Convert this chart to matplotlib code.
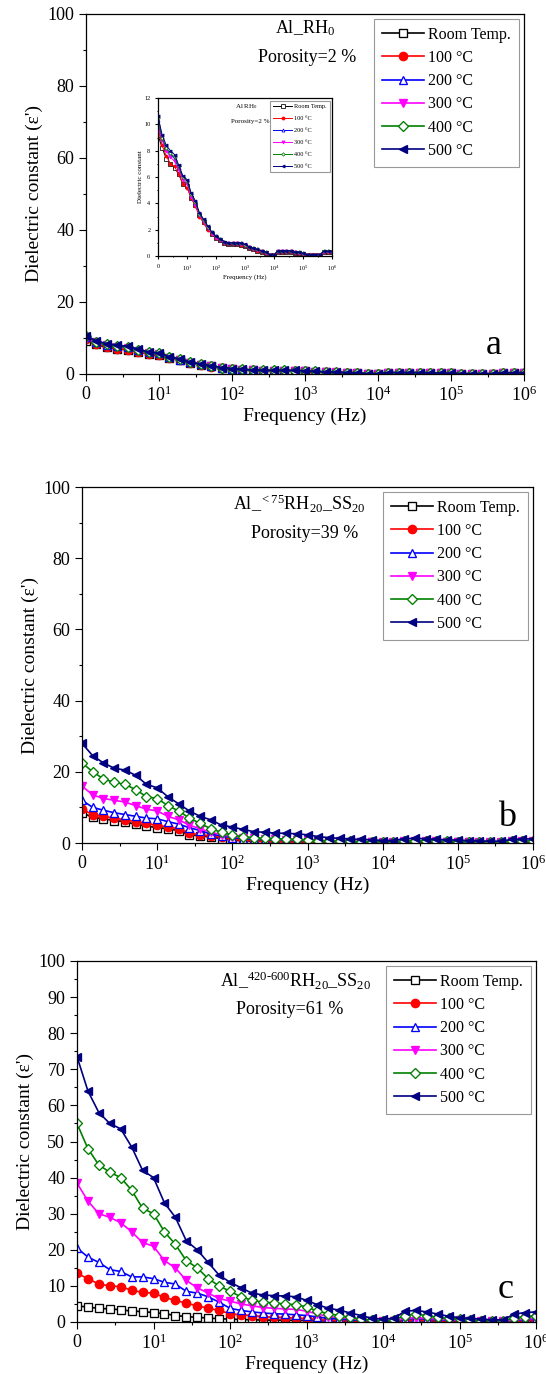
import numpy as np
import matplotlib
matplotlib.use('Agg')
import matplotlib.pyplot as plt
from matplotlib.ticker import FixedLocator, MultipleLocator

plt.rcParams['font.family'] = 'Liberation Serif'
plt.rcParams['mathtext.fontset'] = 'custom'
plt.rcParams['mathtext.rm'] = 'Liberation Serif'
plt.rcParams['mathtext.it'] = 'Liberation Serif:italic'

# frequency sweep: 7 points per decade, 1 Hz .. 1 MHz
freq = np.logspace(0, 6, 43)

labels = ['Room Temp.', '100 °C', '200 °C', '300 °C', '400 °C', '500 °C']

# panel a : Al_RH0, porosity 2 %
a_rt = [9.2, 8.2, 7.4, 7.0, 6.7, 6.2, 5.5, 5.3, 4.4, 3.9, 3.1, 2.6, 2.1, 1.7, 1.4, 1.2, 1.0, 0.9, 0.9, 0.9, 0.85, 0.75, 0.6, 0.5, 0.4, 0.3, 0.2, 0.05, 0.05, 0.3, 0.3, 0.3, 0.3, 0.25, 0.2, 0.15, 0.05, 0.05, 0.05, 0.05, 0.3, 0.3, 0.3]
a_100 = [9.6, 8.4, 7.6, 7.0, 6.8, 6.2, 5.5, 5.2, 4.4, 3.8, 3.0, 2.5, 2.0, 1.7, 1.4, 1.2, 1.0, 0.9, 0.9, 0.9, 0.85, 0.75, 0.6, 0.5, 0.4, 0.3, 0.2, 0.05, 0.05, 0.3, 0.3, 0.3, 0.3, 0.25, 0.2, 0.15, 0.05, 0.05, 0.05, 0.05, 0.3, 0.3, 0.3]
a_200 = [10.3, 8.9, 8.1, 7.7, 7.4, 6.7, 6.0, 5.7, 4.7, 4.0, 3.2, 2.7, 2.2, 1.8, 1.5, 1.3, 1.1, 1.0, 1.0, 1.0, 0.95, 0.85, 0.7, 0.6, 0.5, 0.4, 0.3, 0.1, 0.1, 0.4, 0.4, 0.4, 0.4, 0.3, 0.3, 0.2, 0.1, 0.1, 0.1, 0.1, 0.35, 0.35, 0.35]
a_300 = [9.8, 8.8, 8.0, 7.5, 7.2, 6.5, 5.8, 5.5, 4.5, 3.9, 3.1, 2.6, 2.1, 1.7, 1.4, 1.2, 1.0, 0.95, 0.95, 0.95, 0.9, 0.8, 0.65, 0.55, 0.45, 0.35, 0.25, 0.1, 0.1, 0.35, 0.35, 0.35, 0.35, 0.3, 0.25, 0.15, 0.1, 0.05, 0.05, 0.05, 0.3, 0.3, 0.3]
a_400 = [10.5, 9.0, 8.2, 7.8, 7.5, 6.8, 6.0, 5.7, 4.7, 4.1, 3.2, 2.7, 2.2, 1.8, 1.5, 1.3, 1.1, 1.0, 1.0, 1.0, 0.95, 0.85, 0.7, 0.6, 0.5, 0.4, 0.3, 0.1, 0.1, 0.4, 0.4, 0.4, 0.4, 0.3, 0.3, 0.2, 0.1, 0.1, 0.1, 0.1, 0.35, 0.35, 0.35]
a_500 = [10.6, 9.2, 8.4, 8.0, 7.7, 6.9, 6.1, 5.8, 4.8, 4.2, 3.3, 2.8, 2.3, 1.8, 1.5, 1.3, 1.1, 1.0, 1.0, 1.0, 1.0, 0.9, 0.7, 0.6, 0.5, 0.4, 0.3, 0.1, 0.1, 0.4, 0.4, 0.4, 0.4, 0.3, 0.3, 0.2, 0.1, 0.1, 0.1, 0.1, 0.35, 0.35, 0.35]

# panel b : Al_<75RH20_SS20, porosity 39 %
b_rt = [8.5, 7.2, 6.8, 6.3, 6, 5.2, 4.8, 4.3, 4, 3.5, 2.3, 2, 1.7, 1.2, 0.8, 0.6, 0.5, 0.45, 0.4, 0.4, 0.35, 0.3, 0.25, 0.2, 0.2, 0.2, 0.15, 0.15, 0.1, 0.1, 0.25, 0.3, 0.25, 0.2, 0.2, 0.15, 0.15, 0.1, 0.1, 0.1, 0.2, 0.25, 0.25]
b_100 = [9.5, 8, 7.5, 7, 6.5, 6, 5.5, 5, 4.5, 4, 2.8, 2.3, 2, 1.6, 1.0, 0.8, 0.6, 0.5, 0.45, 0.4, 0.4, 0.35, 0.3, 0.25, 0.2, 0.2, 0.2, 0.15, 0.15, 0.15, 0.3, 0.35, 0.3, 0.25, 0.2, 0.2, 0.15, 0.15, 0.1, 0.1, 0.25, 0.3, 0.3]
b_200 = [12, 10, 9.2, 8.5, 8, 7.5, 7, 6.8, 6, 5.3, 4.3, 3.5, 2.5, 2.0, 1.5, 1.2, 1.0, 0.9, 0.8, 0.75, 0.7, 0.65, 0.5, 0.45, 0.4, 0.35, 0.3, 0.25, 0.2, 0.2, 0.45, 0.5, 0.45, 0.4, 0.35, 0.3, 0.25, 0.2, 0.2, 0.2, 0.4, 0.45, 0.5]
b_300 = [16, 13.5, 12.5, 12, 11.5, 10.5, 9.5, 9, 7.5, 6.5, 5, 4, 3, 2.3, 1.8, 1.5, 1.3, 1.1, 1.0, 0.9, 0.9, 0.8, 0.6, 0.5, 0.45, 0.4, 0.35, 0.3, 0.25, 0.25, 0.5, 0.6, 0.5, 0.45, 0.4, 0.35, 0.3, 0.25, 0.2, 0.2, 0.45, 0.5, 0.6]
b_400 = [22.5, 20, 18, 17, 16.5, 15, 13, 12.5, 10.5, 9, 7, 5.5, 4, 3, 2.2, 1.8, 1.5, 1.3, 1.2, 1.1, 1.0, 0.9, 0.7, 0.6, 0.5, 0.45, 0.4, 0.35, 0.3, 0.3, 0.6, 0.7, 0.6, 0.5, 0.45, 0.4, 0.35, 0.3, 0.25, 0.25, 0.5, 0.6, 0.7]
b_500 = [28, 24.5, 22.5, 21, 20.5, 19, 16.5, 15.5, 13, 11, 9, 7.5, 6.5, 5, 4.5, 3.8, 3.2, 3.0, 2.8, 2.7, 2.6, 2.3, 1.8, 1.5, 1.3, 1.1, 1.0, 0.9, 0.7, 0.7, 1.2, 1.3, 1.2, 1.0, 0.9, 0.8, 0.7, 0.6, 0.5, 0.5, 1.0, 1.1, 1.2]

# panel c : Al_420-600RH20_SS20, porosity 61 %
c_rt = [4.5, 4.1, 3.8, 3.6, 3.4, 3.0, 2.9, 2.6, 2.3, 1.8, 1.5, 1.3, 1.1, 0.9, 0.8, 0.7, 0.6, 0.55, 0.5, 0.5, 0.45, 0.4, 0.35, 0.3, 0.25, 0.2, 0.2, 0.15, 0.1, 0.15, 0.3, 0.35, 0.3, 0.25, 0.2, 0.2, 0.15, 0.1, 0.1, 0.1, 0.2, 0.25, 0.3]
c_100 = [13.5, 12, 10.5, 10, 9.8, 8.8, 8.2, 8, 6.8, 6, 5.2, 4.5, 3.8, 3.2, 2.3, 2, 1.8, 1.5, 1.3, 1.2, 1.1, 0.9, 0.7, 0.5, 0.4, 0.3, 0.25, 0.2, 0.15, 0.2, 0.5, 0.6, 0.5, 0.4, 0.3, 0.25, 0.2, 0.15, 0.1, 0.1, 0.3, 0.4, 0.5]
c_200 = [20.5, 18, 16.5, 14.5, 14, 12.5, 12.5, 12, 11, 10.5, 8.5, 8, 7, 5.5, 3.8, 3.2, 2.8, 2.5, 2.3, 2.2, 2.0, 1.8, 1.4, 1.0, 0.8, 0.6, 0.4, 0.3, 0.2, 0.3, 0.8, 1.0, 0.8, 0.6, 0.5, 0.4, 0.3, 0.2, 0.2, 0.2, 0.5, 0.6, 0.8]
c_300 = [38.5, 33.5, 30, 29, 27.5, 25, 22, 21, 17, 15, 11.5, 9.5, 8, 6.5, 5.8, 5, 4.5, 4, 3.8, 3.6, 3.5, 3, 2.2, 1.5, 1.2, 0.9, 0.6, 0.3, 0.2, 0.3, 1.0, 1.2, 1.0, 0.8, 0.6, 0.5, 0.4, 0.3, 0.2, 0.2, 0.6, 0.8, 1.0]
c_400 = [55, 48, 43.5, 41.5, 40, 36.5, 31.5, 30, 25, 21.5, 17, 15, 12, 10, 8.5, 7, 6, 5.5, 5.3, 5, 4.8, 4.2, 3, 2.3, 1.8, 1.3, 0.8, 0.5, 0.3, 0.5, 1.8, 2.2, 1.8, 1.3, 1.0, 0.8, 0.6, 0.4, 0.3, 0.3, 1.2, 1.5, 1.8]
c_500 = [73.5, 64, 58, 55, 53.5, 48.5, 42, 40, 33, 29, 22.5, 20, 16.5, 13, 11, 9.5, 8, 7.5, 7.3, 7.2, 7, 6, 4.8, 3.8, 3.3, 2.5, 1.8, 1.0, 0.8, 1.0, 3.0, 3.2, 2.8, 2.2, 1.6, 1.2, 1.0, 0.8, 0.6, 0.6, 2.2, 2.6, 2.8]

xtick_labels = ['0', '$10^1$', '$10^2$', '$10^3$', '$10^4$', '$10^5$', '$10^6$']

# marker style per temperature: (colour, marker, filled?)
styles = [('black', 's', False), ('#ff0000', 'o', True), ('#0000ff', '^', False),
          ('#ff00ff', 'v', True), ('#008000', 'D', False), ('#000080', '<', True)]


def draw_series(ax, data, ms, lw, leg_fs, leg_kw):
    for (col, mk, filled), y, lab in zip(styles, data, labels):
        msz = ms * 0.8 if mk == 'D' else ms
        ax.plot(freq, y, '-', color=col, marker=mk, markersize=msz, linewidth=lw,
                markerfacecolor=col if filled else 'white', markeredgecolor=col,
                markeredgewidth=lw * 0.8, label=lab)
    leg = ax.legend(fontsize=leg_fs, fancybox=False, edgecolor='#808080', **leg_kw)
    leg.get_frame().set_linewidth(0.8)


def setup_axes(ax, ymax, ystep, fs, tl):
    ax.set_xscale('log')
    ax.set_xlim(1, 1e6)
    ax.set_ylim(0, ymax)
    ax.xaxis.set_major_locator(FixedLocator(10.0 ** np.arange(0, 7)))
    ax.xaxis.set_minor_locator(FixedLocator(10.0 ** np.arange(0.5, 6, 1)))
    ax.set_xticklabels(xtick_labels)
    ax.yaxis.set_major_locator(MultipleLocator(ystep))
    ax.yaxis.set_minor_locator(MultipleLocator(ystep / 2))
    ax.tick_params(which='major', direction='out', length=tl, width=0.8, labelsize=fs,
                   top=False, right=False)
    ax.tick_params(which='minor', direction='out', length=tl / 2, width=0.8,
                   top=False, right=False)
    for s in ax.spines.values():
        s.set_linewidth(0.9)


W, H = 546, 1374
fig = plt.figure(figsize=(W / 100, H / 100), dpi=100)


def px_axes(l, t, r, b):
    return fig.add_axes([l / W, 1 - b / H, (r - l) / W, (b - t) / H])


panels = [
    (px_axes(86, 14, 524, 374), [a_rt, a_100, a_200, a_300, a_400, a_500], 100, 20,
     'Al_RH$_0$', 'Porosity=2 %', (305, 28), (307, 57), 'a', (494, 346)),
    (px_axes(82, 487, 533, 843), [b_rt, b_100, b_200, b_300, b_400, b_500], 100, 20,
     'Al_$^{<75}$RH$_{20}$_SS$_{20}$', 'Porosity=39 %', (299, 504), (305, 534), 'b', (507, 818)),
    (px_axes(77, 961, 536, 1322), [c_rt, c_100, c_200, c_300, c_400, c_500], 100, 10,
     'Al_$^{420\\text{-}600}$RH$_{20}$_SS$_{20}$', 'Porosity=61 %', (296, 981), (290, 1009), 'c', (506, 1290)),
]

for ax, data, ymax, ystep, t1, t2, p1, p2, letter, pl in panels:
    setup_axes(ax, ymax, ystep, 13, 5)
    draw_series(ax, data, 6.0, 1.2, 11.5,
                dict(loc='upper right', borderaxespad=0.3, handlelength=2.6,
                     labelspacing=0.45, handletextpad=0.3, borderpad=0.5))
    ax.set_xlabel('Frequency (Hz)', fontsize=14, labelpad=2)
    ax.set_ylabel("Dielectric constant (ε')", fontsize=14, labelpad=3)
    fig.text(p1[0] / W, 1 - p1[1] / H, t1, fontsize=13, ha='center', va='center')
    fig.text(p2[0] / W, 1 - p2[1] / H, t2, fontsize=13, ha='center', va='center')
    fig.text(pl[0] / W, 1 - pl[1] / H, letter, fontsize=26, ha='center', va='center')

# inset of panel a (zoom of the same data)
ins = px_axes(158, 98, 332, 256)
setup_axes(ins, 12, 2, 4.5, 2)
ins.yaxis.set_minor_locator(MultipleLocator(1))
draw_series(ins, [a_rt, a_100, a_200, a_300, a_400, a_500], 2.2, 0.7, 4.5,
            dict(loc='upper right', borderaxespad=0.4, handlelength=3.0,
                 labelspacing=1.05, handletextpad=0.3, borderpad=0.5))
ins.set_xlabel('Frequency (Hz)', fontsize=5, labelpad=1)
ins.set_ylabel('Dielectric constant', fontsize=5, labelpad=1)
fig.text(246 / W, 1 - 107 / H, 'Al RH$_0$', fontsize=5, ha='center', va='center')
fig.text(250 / W, 1 - 121 / H, 'Porosity=2 %', fontsize=5, ha='center', va='center')

fig.savefig('out.png', dpi=100)
